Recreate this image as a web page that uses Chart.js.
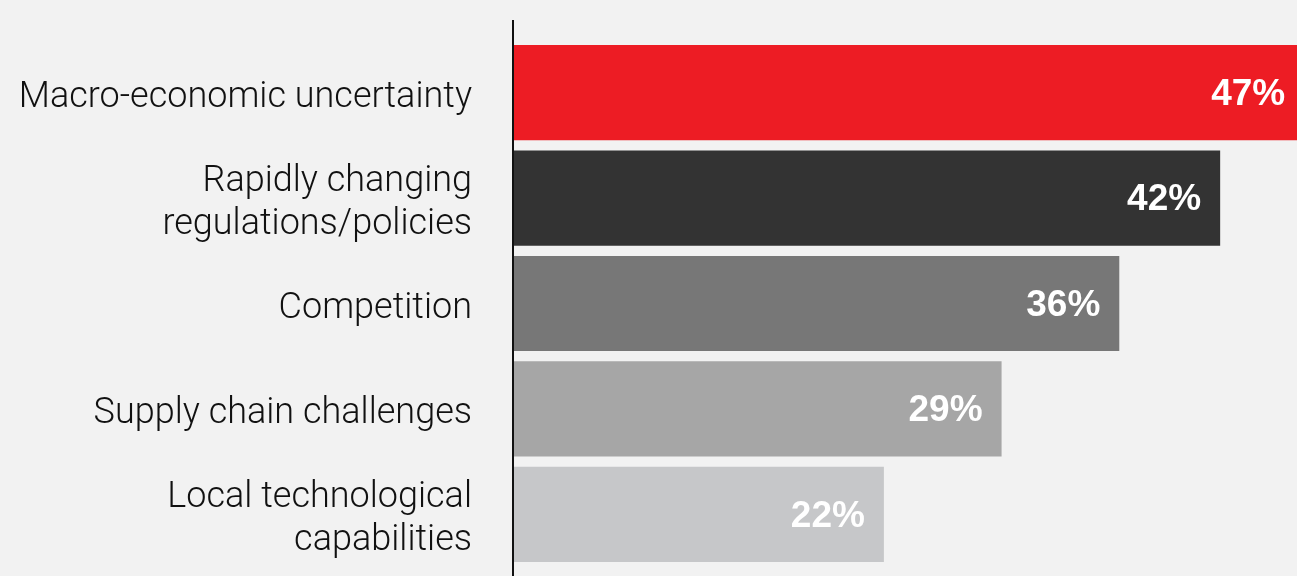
<!DOCTYPE html>
<html>
<head>
<meta charset="utf-8">
<script src="https://cdn.jsdelivr.net/npm/chart.js@4"></script>
<style>
  html, body { margin: 0; padding: 0; background: #f2f2f2; }
  #wrap { width: 1297px; height: 576px; }
</style>
</head>
<body>
<div id="wrap"><canvas id="barChart" width="1297" height="576"></canvas></div>
<script>
// Categories (split into lines as shown) and survey shares
const categories = [
  ['Macro-economic uncertainty'],
  ['Rapidly changing', 'regulations/policies'],
  ['Competition'],
  ['Supply chain challenges'],
  ['Local technological', 'capabilities']
];
const shares = [47, 42, 36, 29, 22];
const barColors = ['#ed1c24', '#333333', '#777777', '#a6a6a6', '#c6c7c9'];

// Draws the category labels, the vertical axis line and the value labels
const decorations = {
  id: 'decorations',
  afterDatasetsDraw(chart) {
    const ctx = chart.ctx;
    const area = chart.chartArea;
    const x = chart.scales.x;
    const meta = chart.getDatasetMeta(0);

    ctx.save();
    // axis line
    ctx.strokeStyle = '#111';
    ctx.lineWidth = 2;
    ctx.beginPath();
    ctx.moveTo(area.left - 1, 20);
    ctx.lineTo(area.left - 1, 576);
    ctx.stroke();

    meta.data.forEach((bar, i) => {
      const cy = bar.y;
      // category label
      ctx.fillStyle = '#111111';
      ctx.font = '300 36px Roboto, "Liberation Sans", sans-serif';
      ctx.textAlign = 'right';
      ctx.textBaseline = 'alphabetic';
      const lines = categories[i];
      const lh = 43;
      lines.forEach((line, j) => {
        const y = cy + 14 + (j - (lines.length - 1) / 2) * lh;
        ctx.fillText(line, 472, y);
      });
      // value label
      ctx.fillStyle = '#ffffff';
      ctx.font = 'bold 37px "Liberation Sans", Arial, sans-serif';
      ctx.textBaseline = 'middle';
      ctx.fillText(shares[i] + '%', x.getPixelForValue(shares[i]) - 19, cy + 2);
    });
    ctx.restore();
  }
};

new Chart(document.getElementById('barChart').getContext('2d'), {
  type: 'bar',
  data: {
    labels: categories.map(c => c.join(' ')),
    datasets: [{
      data: shares,
      backgroundColor: barColors,
      borderWidth: 0,
      categoryPercentage: 1,
      barPercentage: 0.903
    }]
  },
  options: {
    indexAxis: 'y',
    responsive: false,
    animation: false,
    layout: { padding: { left: 514, right: 0, top: 40, bottom: 9 } },
    plugins: { legend: { display: false }, tooltip: { enabled: false } },
    scales: {
      x: { display: false, min: 0, max: 46.57 },
      y: { display: false }
    }
  },
  plugins: [decorations]
});
</script>
</body>
</html>
